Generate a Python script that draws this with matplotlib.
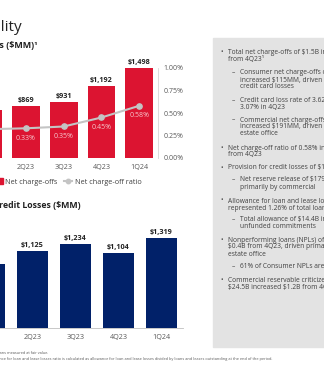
import matplotlib.pyplot as plt
from matplotlib.lines import Line2D
from matplotlib.patches import Patch, Rectangle

plt.rcParams['font.family'] = ['Open Sans', 'DejaVu Sans']

# data
quarters = ['1Q23', '2Q23', '3Q23', '4Q23', '1Q24']
net_charge_offs = [807, 869, 931, 1192, 1498]
nco_ratio = [0.32, 0.33, 0.35, 0.45, 0.58]
provision = [931, 1125, 1234, 1104, 1319]

red = '#dc1431'
navy = '#012169'
gray_line = '#c4c4c4'
txt = '#404040'

W, H = 324, 384
fig = plt.figure(figsize=(W / 100, H / 100), dpi=100)


def box(x0, y0, x1, y1):
    # pixel box measured from the top-left corner -> figure fraction rect
    return [x0 / W, 1 - y1 / H, (x1 - x0) / W, (y1 - y0) / H]


# titles (slide is cropped on the left, so the text runs off the edge)
fig.text(22 / W, 1 - 31 / H, 'Credit Quality', fontsize=11, color='#222222',
         ha='right', va='baseline')
fig.text(37 / W, 1 - 45 / H, 'Net Charge-offs ($MM)¹', fontsize=6.5,
         fontweight='bold', color='#222222', ha='right', va='center', parse_math=False)
fig.text(81 / W, 1 - 206 / H, 'Provision for Credit Losses ($MM)', fontsize=6.3,
         fontweight='bold', color='#222222', ha='right', va='center', parse_math=False)

# --- net charge-offs chart ---
ax = fig.add_axes(box(-30.5, 68, 158, 158))
x = range(len(quarters))
bars = ax.bar(x, net_charge_offs, width=0.74, color=red)
ax.set_ylim(0, 1500)
ax.set_xlim(-0.5, 4.5)
ax.set_yticks([])
for s in ax.spines.values():
    s.set_visible(False)
ax.set_xticks(list(x), quarters)
ax.tick_params(axis='x', length=0, pad=4.5, labelsize=5.2, labelcolor='#595959')
for b, v in zip(bars, net_charge_offs):
    ax.annotate(f'${v:,}', (b.get_x() + b.get_width() / 2, v), xytext=(0, 1.5),
                textcoords='offset points', ha='center', va='bottom',
                fontsize=5.2, fontweight='bold', color='#222222')

ax2 = ax.twinx()
ax2.plot(list(x), nco_ratio, color=gray_line, lw=1.5, marker='o', ms=3.8)
ax2.set_ylim(0, 1.0)
ax2.set_yticks([0, 0.25, 0.5, 0.75, 1.0])
ax2.set_yticklabels([f'{t:.2f}%' for t in [0, 0.25, 0.5, 0.75, 1.0]])
ax2.tick_params(axis='y', length=0, pad=4, labelsize=5, labelcolor='#595959')
for k, s in ax2.spines.items():
    s.set_visible(k == 'right')
ax2.spines['right'].set_color('#d6d6d6')
ax2.spines['right'].set_linewidth(0.6)
for i, r in enumerate(nco_ratio):
    ax2.annotate(f'{r:.2f}%', (i, r), xytext=(0, -7), textcoords='offset points',
                 ha='center', va='center', fontsize=5, color='#f6c6cc')

fig.legend([Patch(color=red), Line2D([], [], color=gray_line, lw=1.5, marker='o', ms=3.2)],
           ['Net charge-offs', 'Net charge-off ratio'],
           loc='center left', bbox_to_anchor=(-5 / W, 1 - 182 / H), ncol=2,
           frameon=False, fontsize=5.2, labelcolor=txt, handlelength=1.1,
           handleheight=0.9, handletextpad=0.35, columnspacing=0.9,
           borderpad=0, borderaxespad=0)

# --- provision chart ---
bx = fig.add_axes(box(-32, 229, 183, 328))
pbars = bx.bar(x, provision, width=0.72, color=navy)
bx.set_ylim(0, 1450)
bx.set_xlim(-0.5, 4.5)
bx.set_yticks([])
for k, s in bx.spines.items():
    s.set_visible(k == 'bottom')
bx.spines['bottom'].set_color('#bfbfbf')
bx.spines['bottom'].set_linewidth(0.6)
bx.set_xticks(list(x), quarters)
bx.tick_params(axis='x', length=0, pad=4, labelsize=5.2, labelcolor='#595959')
for b, v in zip(pbars, provision):
    bx.annotate(f'${v:,}', (b.get_x() + b.get_width() / 2, v), xytext=(0, 1.5),
                textcoords='offset points', ha='center', va='bottom',
                fontsize=5.2, fontweight='bold', color='#222222')

# --- commentary panel ---
fig.add_artist(Rectangle((213 / W, 1 - 347 / H), (W - 213) / W + 0.01, (347 - 38) / H,
                         transform=fig.transFigure, color='#e3e3e3', zorder=0))
panel = [
    (0, ['Total net charge-offs of $1.5B increased $306MM', 'from 4Q23¹'], 53),
    (1, ['Consumer net charge-offs of $1.0B', 'increased $115MM, driven primarily by',
         'credit card losses'], 73),
    (1, ['Credit card loss rate of 3.62% vs.', '3.07% in 4Q23'], 101),
    (1, ['Commercial net charge-offs of $0.5B', 'increased $191MM, driven by commercial real',
         'estate office'], 120),
    (0, ['Net charge-off ratio of 0.58% increased 13 bps', 'from 4Q23'], 148),
    (0, ['Provision for credit losses of $1.3B'], 168),
    (1, ['Net reserve release of $179MM, driven', 'primarily by commercial'], 180),
    (0, ['Allowance for loan and lease losses of $13.3B',
         'represented 1.26% of total loans and leases²'], 201),
    (1, ['Total allowance of $14.4B includes $1.1B for', 'unfunded commitments'], 220),
    (0, ['Nonperforming loans (NPLs) of $5.5B increased',
         '$0.4B from 4Q23, driven primarily by commercial real', 'estate office'], 240),
    (1, ['61% of Consumer NPLs are contractually current'], 267),
    (0, ['Commercial reservable criticized utilized exposure of',
         '$24.5B increased $1.2B from 4Q23'], 280),
]
for level, lines, y0 in panel:
    mark_x, text_x = (220, 228) if level == 0 else (232, 240)
    fig.text(mark_x / W, 1 - y0 / H, '•' if level == 0 else '–', fontsize=4.8,
             color=txt, ha='left', va='center')
    for j, line in enumerate(lines):
        fig.text(text_x / W, 1 - (y0 + 7 * j) / H, line, fontsize=4.8,
                 color=txt, ha='left', va='center', parse_math=False)

# footnotes
fig.text(48 / W, 1 - 353 / H, '¹ Excludes loans measured at fair value.',
         fontsize=2.8, color='#595959', ha='right', va='center')
fig.text(272 / W, 1 - 359 / H,
         '² Allowance for loan and lease losses ratio is calculated as allowance for loan and '
         'lease losses divided by loans and leases outstanding at the end of the period.',
         fontsize=2.8, color='#595959', ha='right', va='center')

fig.savefig('out.png', dpi=100, facecolor='white')
